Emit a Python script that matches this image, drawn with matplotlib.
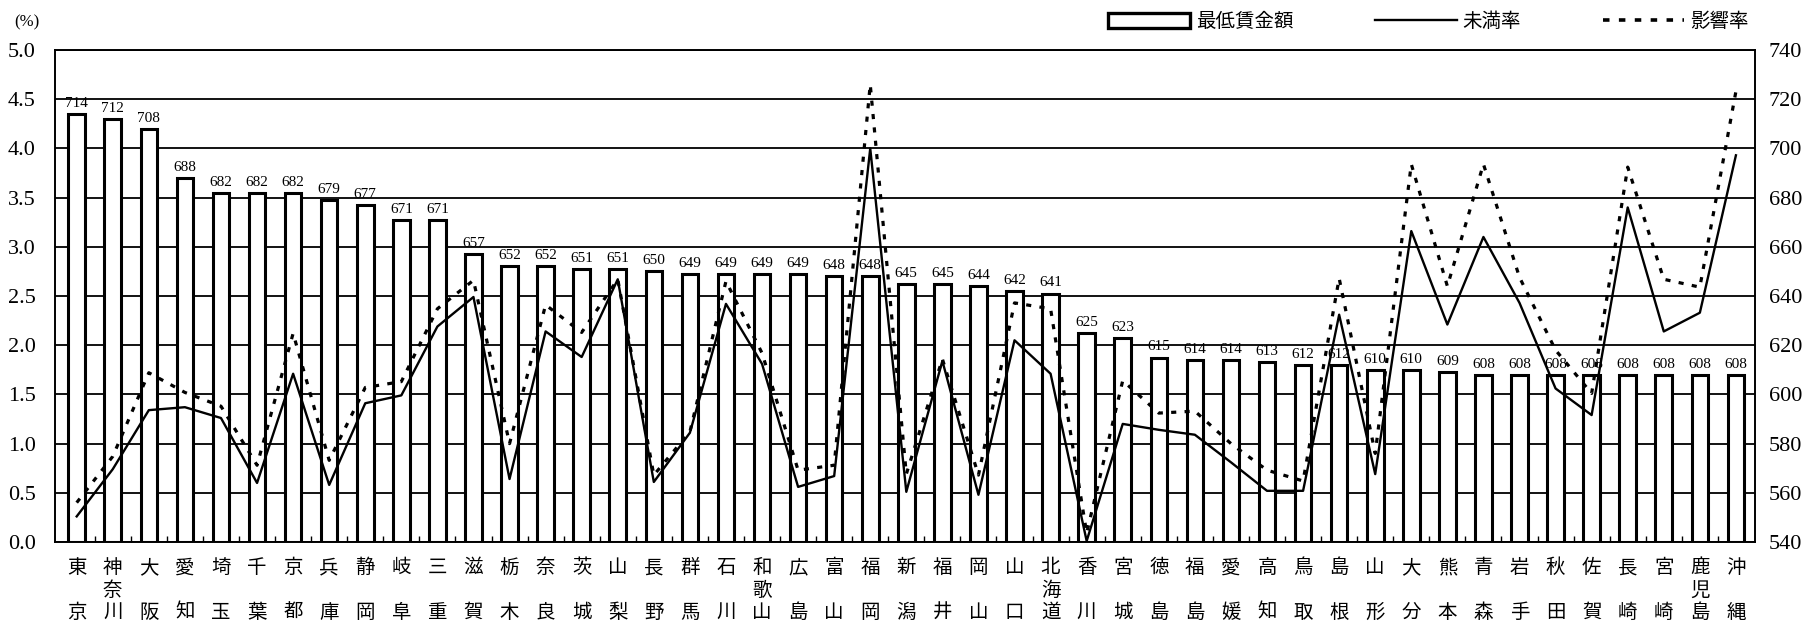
import matplotlib
matplotlib.use("Agg")
import matplotlib.pyplot as plt
from matplotlib.patches import Patch
from matplotlib.lines import Line2D
from matplotlib.ticker import FixedLocator

prefectures = ['東京', '神奈川', '大阪', '愛知', '埼玉', '千葉', '京都', '兵庫', '静岡', '岐阜',
               '三重', '滋賀', '栃木', '奈良', '茨城', '山梨', '長野', '群馬', '石川', '和歌山',
               '広島', '富山', '福岡', '新潟', '福井', '岡山', '山口', '北海道', '香川', '宮城',
               '徳島', '福島', '愛媛', '高知', '鳥取', '島根', '山形', '大分', '熊本', '青森',
               '岩手', '秋田', '佐賀', '長崎', '宮崎', '鹿児島', '沖縄']

min_wage = [714, 712, 708, 688, 682, 682, 682, 679, 677, 671,
            671, 657, 652, 652, 651, 651, 650, 649, 649, 649,
            649, 648, 648, 645, 645, 644, 642, 641, 625, 623,
            615, 614, 614, 613, 612, 612, 610, 610, 609, 608,
            608, 608, 608, 608, 608, 608, 608]

mimanritsu = [0.26, 0.74, 1.34, 1.37, 1.26, 0.60, 1.71, 0.58, 1.41, 1.49,
              2.19, 2.49, 0.64, 2.14, 1.88, 2.67, 0.61, 1.11, 2.42, 1.81,
              0.56, 0.67, 4.00, 0.51, 1.84, 0.48, 2.05, 1.71, 0.01, 1.20,
              1.14, 1.09, 0.81, 0.52, 0.52, 2.31, 0.69, 3.16, 2.21, 3.10,
              2.43, 1.56, 1.29, 3.40, 2.14, 2.33, 3.93]

eikyoritsu = [0.40, 0.87, 1.72, 1.52, 1.38, 0.78, 2.12, 0.83, 1.57, 1.63,
              2.37, 2.66, 1.00, 2.41, 2.13, 2.67, 0.68, 1.12, 2.65, 1.92,
              0.73, 0.78, 4.65, 0.69, 1.86, 0.68, 2.43, 2.37, 0.09, 1.64,
              1.31, 1.33, 1.00, 0.73, 0.62, 2.68, 0.90, 3.84, 2.60, 3.84,
              2.69, 1.95, 1.51, 3.81, 2.67, 2.59, 4.58]

left_ticks = [0.0, 0.5, 1.0, 1.5, 2.0, 2.5, 3.0, 3.5, 4.0, 4.5, 5.0]
right_ticks = [540, 560, 580, 600, 620, 640, 660, 680, 700, 720, 740]

SERIF = ['Liberation Serif', 'DejaVu Serif']
CJK = ['Noto Sans CJK JP', 'DejaVu Sans']
plt.rcParams['font.family'] = CJK

DOTS = (0, (1.6, 2.6))

fig = plt.figure(figsize=(18.17, 6.30), dpi=100)
ax_bar = fig.add_axes([0.0303, 0.1397, 0.9356, 0.7809])
ax_line = ax_bar.twinx()

x = list(range(len(prefectures)))

# bars on the wage (right) scale
ax_bar.set_ylim(540, 740)
ax_bar.set_xlim(-0.6, len(prefectures) - 0.47)
ax_bar.bar(x, [w - 540 for w in min_wage], bottom=540, width=0.46,
           facecolor='white', edgecolor='black', linewidth=2.2, zorder=3)
for xi, w in zip(x, min_wage):
    ax_bar.annotate(str(w), (xi, w), xytext=(0, 3), textcoords='offset points',
                    ha='center', va='bottom', fontsize=11, family=SERIF, zorder=4)

ax_bar.yaxis.set_major_locator(FixedLocator(right_ticks))
ax_bar.yaxis.tick_right()
ax_bar.grid(axis='y', color='black', linewidth=1.3, zorder=0)
ax_bar.set_axisbelow(True)
ax_bar.tick_params(axis='y', which='both', length=0, pad=10, labelsize=16)
for lab in ax_bar.get_yticklabels():
    lab.set_family(SERIF)

# x labels: characters stacked vertically
def stack(name):
    if len(name) == 2:
        return name[0] + '\n\u3000\n' + name[1]
    return '\n'.join(name)

ax_bar.set_xticks(x)
ax_bar.set_xticklabels([stack(p) for p in prefectures], fontsize=14,
                       linespacing=1.08, family=CJK)
ax_bar.tick_params(axis='x', which='major', length=0, pad=11)
ax_bar.xaxis.set_minor_locator(FixedLocator([i + 0.5 for i in x[:-1]]))
ax_bar.tick_params(axis='x', which='minor', direction='in', length=4, width=1)

# rates on the left scale
ax_line.set_ylim(0, 5.0)
ax_line.plot(x, mimanritsu, color='black', linewidth=1.7, zorder=5)
ax_line.plot(x, eikyoritsu, color='black', linewidth=2.3, linestyle=DOTS, zorder=5)
ax_line.yaxis.set_major_locator(FixedLocator(left_ticks))
ax_line.yaxis.tick_left()
ax_line.set_yticklabels(['%.1f' % t for t in left_ticks], family=SERIF)
ax_line.tick_params(axis='y', length=0, pad=14, labelsize=16)
ax_line.patch.set_visible(False)

for a in (ax_bar, ax_line):
    for s in a.spines.values():
        s.set_color('black')
        s.set_linewidth(1.2)

fig.text(0.008, 0.952, '(%)', fontsize=12, family=SERIF, ha='left', va='bottom')

handles = [Patch(facecolor='white', edgecolor='black', linewidth=2.4),
           Line2D([], [], color='black', linewidth=1.7),
           Line2D([], [], color='black', linewidth=2.6, linestyle=(0, (1.8, 2.6)))]
labels = ['最低賃金額', '未満率', '影響率']
fig.legend(handles, labels, loc='upper right', bbox_to_anchor=(0.972, 1.01),
           ncol=3, frameon=False, fontsize=14, handlelength=4.2, handleheight=0.85,
           handletextpad=0.3, columnspacing=4.2)

fig.savefig('out.png', dpi=100)
